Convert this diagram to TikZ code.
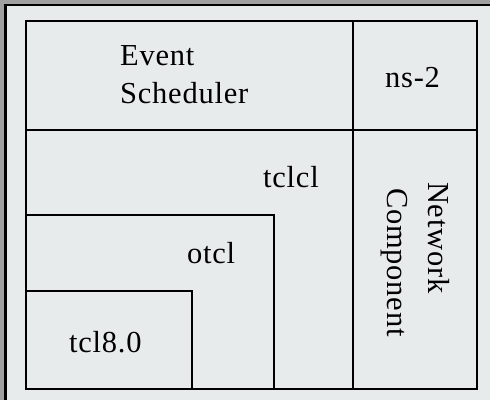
\documentclass[tikz,border=0pt]{standalone}
\usepackage{fontspec}
\setmainfont{Liberation Serif}[LetterSpace=2.5]
\begin{document}
\begin{tikzpicture}[x=1pt,y=-1pt,
  layer/.style={draw=black,line width=2.2pt},
  label/.style={font=\fontsize{30.5}{38}\selectfont,inner sep=0pt,anchor=base west},
  vlabel/.style={label,rotate=-90}]
  \definecolor{paper}{RGB}{231,235,235}
  \definecolor{bevel}{RGB}{160,160,160}
  % canvas and sunken frame
  \fill[paper] (0,0) rectangle (490,400);
  \useasboundingbox (0,0) rectangle (490,400);
  \fill[bevel] (0,0) rectangle (490,4);
  \fill[bevel] (0,0) rectangle (4,400);
  \fill[black] (4,4) rectangle (490,6);
  \fill[black] (4,4) rectangle (7,400);
  % nested layers
  \draw[layer] (26,21) rectangle (477,389);
  \draw[layer] (26,130) -- (477,130);
  \draw[layer] (353,21) -- (353,389);
  \draw[layer] (26,215) -- (274,215) -- (274,389);
  \draw[layer] (26,291) -- (192,291) -- (192,389);
  % labels
  \node[label] (ev) at (120,65) {Event};
  \node[label] (sch) at (120,103) {Scheduler};
  \node[label] (ns) at (385,87) {ns-2};
  \node[label] (tclcl) at (263,187) {tclcl};
  \node[label] (otcl) at (187,263) {otcl};
  \node[label] (tcl) at (69,352) {tcl8.0};
  \node[vlabel] (net) at (428,182) {Network};
  \node[vlabel] (comp) at (387,188) {Component};
\end{tikzpicture}
\end{document}
